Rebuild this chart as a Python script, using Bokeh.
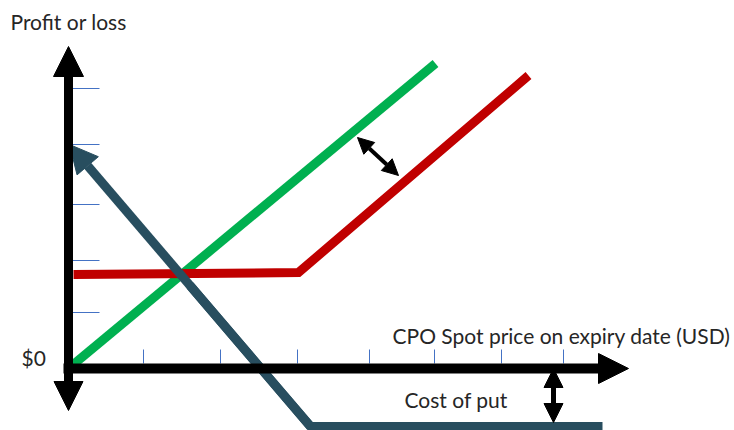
from bokeh.plotting import figure
from bokeh.models import Arrow, NormalHead, Range1d, ColumnDataSource
from bokeh.core.properties import value
from bokeh.embed import file_html
from bokeh.resources import INLINE

# ---- data (diagram units, origin at the axes' crossing) ----
green_x = [0, 367]
green_y = [0, 305]

red_x = [5, 230, 460]
red_y = [94, 96, 293]

put_x = [534, 242, 1]
put_y = [-58, -58, 224]

y_ticks = [56, 108, 164, 224, 280]
x_ticks = [75, 152, 229, 301, 366, 433, 495]

axis_x_end = 560
axis_y_top = 322
axis_y_bottom = -42

gap_arrow = [289, 231, 330, 193]      # between the two call lines
cost_arrow = [485, 0, 485, -54]       # cost of put

labels = ["Profit or loss", "$0", "CPO Spot price on expiry date (USD)", "Cost of put"]
label_x = [-58, -47, 324, 336]
label_y = [347, 11, 33, -31]

GREEN = "#00B050"
RED = "#C00000"
PUT = "#284E5F"
TICK = "#4472C4"

p = figure(width=734, height=430, output_backend="svg", toolbar_location=None,
           x_range=Range1d(-68, 666), y_range=Range1d(-62, 368),
           min_border=0, outline_line_color=None)
p.axis.visible = False
p.grid.visible = False
p.background_fill_color = "white"

# tick marks
p.segment(x0=[4] * len(y_ticks), y0=y_ticks, x1=[31] * len(y_ticks), y1=y_ticks,
          line_color=TICK, line_width=1)
p.segment(x0=x_ticks, y0=[5] * len(x_ticks), x1=x_ticks, y1=[19] * len(x_ticks),
          line_color=TICK, line_width=1)

# long put line
p.line(put_x[:2] + [(put_x[1] + put_x[2]) / 2], put_y[:2] + [(put_y[1] + put_y[2]) / 2],
       line_color=PUT, line_width=9, line_join="miter")
p.add_layout(Arrow(end=NormalHead(size=28, fill_color=PUT, line_color=PUT, line_width=1),
                   x_start=put_x[1], y_start=put_y[1], x_end=put_x[2], y_end=put_y[2],
                   line_color=PUT, line_width=9))

# call lines
p.line(green_x, green_y, line_color=GREEN, line_width=9)
p.line(red_x, red_y, line_color=RED, line_width=9, line_join="miter")

# double arrows
p.add_layout(Arrow(start=NormalHead(size=16, fill_color="black", line_color="black", line_width=1),
                   end=NormalHead(size=16, fill_color="black", line_color="black", line_width=1),
                   x_start=gap_arrow[0], y_start=gap_arrow[1], x_end=gap_arrow[2], y_end=gap_arrow[3],
                   line_color="black", line_width=4))
p.add_layout(Arrow(start=NormalHead(size=19, fill_color="black", line_color="black", line_width=1),
                   end=NormalHead(size=19, fill_color="black", line_color="black", line_width=1),
                   x_start=cost_arrow[0], y_start=cost_arrow[1], x_end=cost_arrow[2], y_end=cost_arrow[3],
                   line_color="black", line_width=5))

# axes
p.add_layout(Arrow(start=NormalHead(size=29, fill_color="black", line_color="black", line_width=1),
                   end=NormalHead(size=30, fill_color="black", line_color="black", line_width=1),
                   x_start=0, y_start=axis_y_bottom, x_end=0, y_end=axis_y_top,
                   line_color="black", line_width=9))
p.add_layout(Arrow(end=NormalHead(size=30, fill_color="black", line_color="black", line_width=1),
                   x_start=-5, y_start=0, x_end=axis_x_end, y_end=0,
                   line_color="black", line_width=10))

src = ColumnDataSource(dict(x=label_x, y=label_y, text=labels))
p.text(x="x", y="y", text="text", source=src, text_font=value("Lato"),
       text_font_size="21px", text_color="#262626", text_align="left",
       text_baseline="alphabetic")

open("out.html", "w").write(file_html(p, INLINE))
